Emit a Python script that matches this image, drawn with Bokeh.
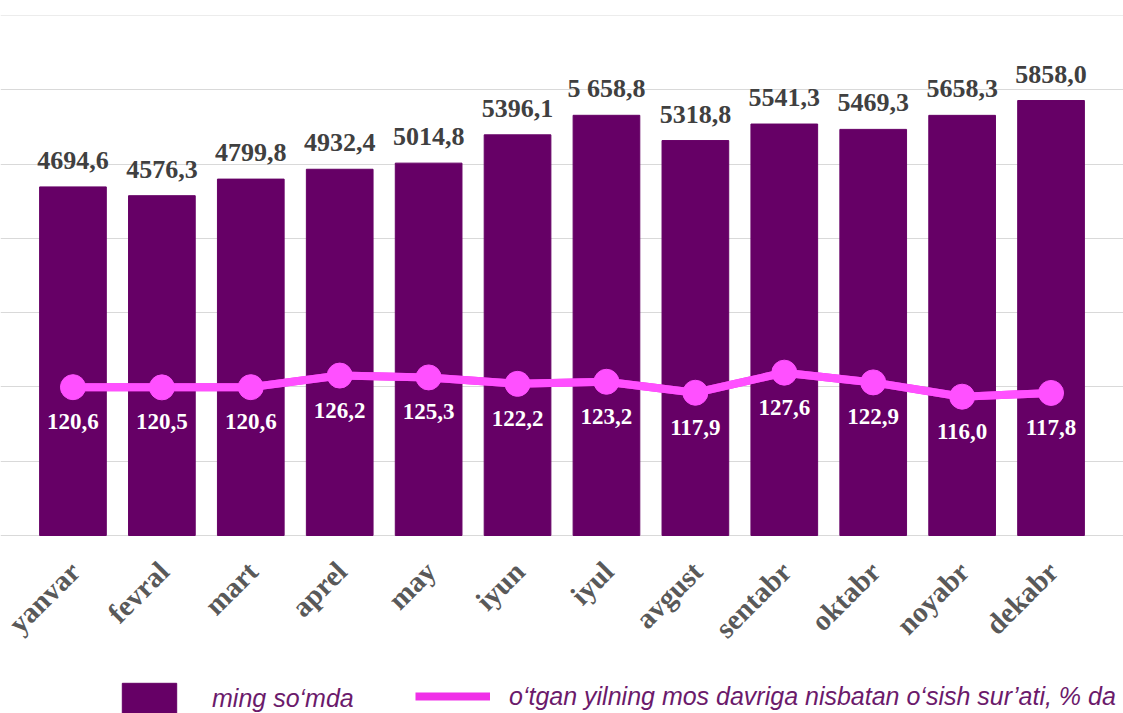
import math
from bokeh.plotting import figure
from bokeh.models import (ColumnDataSource, Range1d, FactorRange, LabelSet, Legend,
                          LegendItem, FixedTicker)
from bokeh.embed import file_html
from bokeh.resources import INLINE

months = ["yanvar", "fevral", "mart", "aprel", "may", "iyun", "iyul",
          "avgust", "sentabr", "oktabr", "noyabr", "dekabr"]
wages = [4694.6, 4576.3, 4799.8, 4932.4, 5014.8, 5396.1, 5658.8,
         5318.8, 5541.3, 5469.3, 5658.3, 5858.0]
wage_labels = ["4694,6", "4576,3", "4799,8", "4932,4", "5014,8", "5396,1", "5 658,8",
               "5318,8", "5541,3", "5469,3", "5658,3", "5858,0"]
growth = [120.6, 120.5, 120.6, 126.2, 125.3, 122.2, 123.2,
          117.9, 127.6, 122.9, 116.0, 117.8]
growth_labels = ["120,6", "120,5", "120,6", "126,2", "125,3", "122,2", "123,2",
                 "117,9", "127,6", "122,9", "116,0", "117,8"]
bar_name = "ming so\u2018mda"
line_name = "o\u2018tgan yilning mos davriga nisbatan o\u2018sish sur\u2019ati, % da"

BAR = "#660066"
LINE = "#FF50FF"
LEG_LINE = "#F030E8"

# layout (pixels): plot area top, value-axis baseline, figure bottom, side margins
W, H = 1123, 713
TOP, BASE = 15, 535
SIDE = 28
Y_MAX = 7003.0
G_LO, G_HI = 49.0, 300.0
below = H - BASE
span = BASE - TOP
y_start = -below * Y_MAX / span
g_start = G_LO - below * (G_HI - G_LO) / span
unit_px = (W - 2 * SIDE) / len(months)
x_pad = SIDE / unit_px

src = ColumnDataSource(dict(m=months, w=wages, wl=wage_labels, g=growth, gl=growth_labels,
                            zero=[0] * len(months)))

p = figure(width=W, height=H,
           x_range=FactorRange(*months, range_padding=x_pad, range_padding_units="absolute"),
           y_range=Range1d(y_start, Y_MAX), output_backend="svg", toolbar_location=None,
           min_border_left=0, min_border_right=0, min_border_top=TOP, min_border_bottom=0)
p.extra_y_ranges = {"g": Range1d(g_start, G_HI)}
p.outline_line_color = None
p.xaxis.visible = False
p.yaxis.visible = False
p.ygrid.ticker = FixedTicker(ticks=[0, 1000, 2000, 3000, 4000, 5000, 6000, 7000])
p.ygrid.grid_line_color = "#d9d9d9"
p.ygrid.grid_line_width = 1
p.xgrid.grid_line_color = None

bars = p.vbar(x="m", top="w", width=0.75, source=src, fill_color=BAR, line_color=BAR)
# legend key line (hidden beneath the series line)
leg_line = p.line(x="m", y="g", source=src, y_range_name="g", line_color=LEG_LINE, line_width=8)
p.line(x="m", y="g", source=src, y_range_name="g", line_color=LINE, line_width=8)
p.scatter(x="m", y="g", source=src, y_range_name="g", size=25, fill_color=LINE, line_color=LINE)

p.add_layout(LabelSet(x="m", y="w", text="wl", source=src, text_align="center",
                      text_baseline="alphabetic", y_offset=18, text_font="Liberation Serif",
                      text_font_style="bold", text_font_size="26px", text_color="#404040"))
p.add_layout(LabelSet(x="m", y="g", text="gl", source=src, y_range_name="g", text_align="center",
                      text_baseline="alphabetic", y_offset=-42, text_font="Liberation Serif",
                      text_font_style="bold", text_font_size="23px", text_color="white"))
# category labels, rotated 45 degrees
p.add_layout(LabelSet(x="m", y="zero", text="m", source=src, text_align="right",
                      text_baseline="middle", angle=math.pi / 4, y_offset=-31, x_offset=2,
                      text_font="Liberation Serif", text_font_style="bold",
                      text_font_size="29px", text_color="#595959"))

common = dict(padding=0, margin=0, border_line_color=None, background_fill_alpha=0,
              label_text_font="Liberation Sans", label_text_font_style="italic",
              label_text_font_size="25px", label_text_color="#6b1a6b")
leg1 = Legend(items=[LegendItem(label=bar_name, renderers=[bars])], location=(115, -4),
              glyph_width=68, glyph_height=38, label_height=38, label_standoff=29, **common)
leg2 = Legend(items=[LegendItem(label=line_name, renderers=[leg_line])], location=(415, 2),
              glyph_width=75, glyph_height=30, label_height=30, label_standoff=19, **common)
p.add_layout(leg1)
p.add_layout(leg2)

open("out.html", "w").write(file_html(p, INLINE))
